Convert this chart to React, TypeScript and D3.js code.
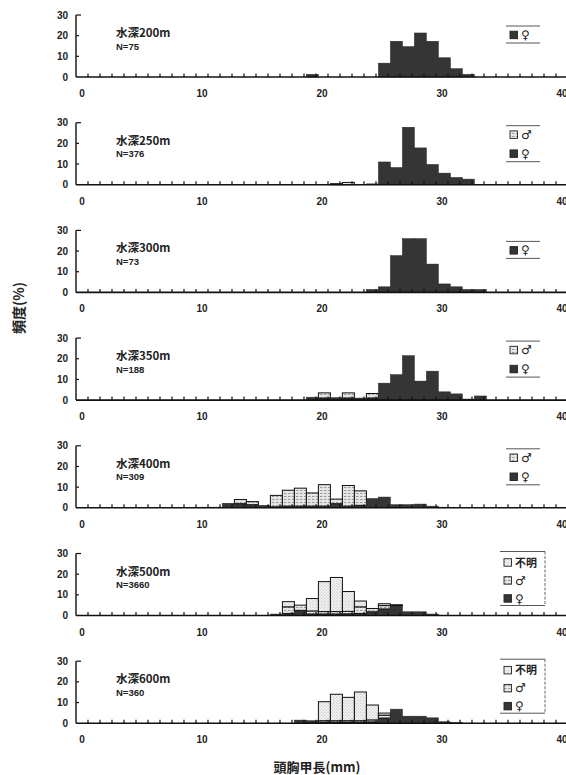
import React from "react";
import * as d3 from "d3";

// ---- data ----
const depthLabels = ["水深200m", "水深250m", "水深300m", "水深350m", "水深400m", "水深500m", "水深600m"];
const sampleSizes = [75, 376, 73, 188, 309, 3660, 360];
const xTicks = [0, 10, 20, 30, 40];
const yTicks = [0, 10, 20, 30];
const legendSets = [
  ["♀"],
  ["♂", "♀"],
  ["♀"],
  ["♂", "♀"],
  ["♂", "♀"],
  ["不明", "♂", "♀"],
  ["不明", "♂", "♀"],
];

// [carapace length bin (mm), 不明 %, ♂ %, ♀ %]
const d200 = [[19,0,0,1.3],[25,0,0,6.7],[26,0,0,17.3],[27,0,0,14.7],[28,0,0,21.3],[29,0,0,17.3],[30,0,0,9.3],[31,0,0,4],[32,0,0,1.3]];
const d250 = [[21,0,0.5,0],[22,0,1.1,0],[24,0,0,0.4],[25,0,0,11],[26,0,0,8.3],[27,0,0,27.8],[28,0,0,17.8],[29,0,0,9.8],[30,0,0,5.6],[31,0,0,3.5],[32,0,0,2.7]];
const d300 = [[24,0,0,1.4],[25,0,0,2.7],[26,0,0,17.8],[27,0,0,26],[28,0,0,26],[29,0,0,13.7],[30,0,0,4.1],[31,0,0,2.7],[32,0,0,1.4],[33,0,0,1.4]];
const d350 = [[19,0,0,1.4],[20,0,2.5,1],[21,0,0,1.2],[22,0,2.5,1],[23,0,0,1],[24,0,2.2,1],[25,0,0,8.2],[26,0,0,12.3],[27,0,0,21.5],[28,0,0,9.2],[29,0,0,14],[30,0,0,4],[31,0,0,3],[32,0,0,0.5],[33,0,0,2]];
const d400 = [[10,0,0,0.3],[11,0,0,0.3],[12,0,0,2.2],[13,0,2,2],[14,0,1.5,1.5],[15,0,0,1.2],[16,0,5.5,0.5],[17,0,7.7,0.8],[18,0,8.7,0.8],[19,0,6.4,0.8],[20,0,10.4,0.8],[21,0,2.2,2],[22,0,10,0.8],[23,0,7,1.2],[24,0,0,4.5],[25,0,0,5.2],[26,0,0,1.5],[27,0,0,1.5],[28,0,0,1.8],[29,0,0,0.8],[30,0,0,0.3]];
const d500 = [[16,0,0,0.7],[17,2.5,3.2,1],[18,0,2.5,2.5],[19,6,1.5,0.7],[20,14.5,1.2,0.7],[21,16.5,1.2,0.7],[22,9.6,1.2,0.8],[23,2.8,3.2,1],[24,0,1.6,1.8],[25,0.9,1.6,3.2],[26,0,0.4,4.8],[27,0,0,1.8],[28,0,0,1.8],[29,0,0,0.7]];
const d600 = [[18,0,0,1.5],[19,0,0,1.2],[20,9.2,0.8,0.4],[21,12.8,0.8,0.4],[22,11.3,0.8,0.4],[23,13.9,0.8,0.4],[24,7.2,1,0.6],[25,1,1.4,2.5],[26,0,0,6.8],[27,0,0,3.4],[28,0,0,3.4],[29,0,0,2.6],[30,0,0,0.7],[31,0,0,0.3]];
const panelData = [d200, d250, d300, d350, d400, d500, d600];

// ---- layout ----
const W = 566, H = 775;
const firstBase = 77, panelStep = 107.7, panelH = 62;
const x = d3.scaleLinear().domain([0, 40]).range([82, 562]);
const binShift = -0.3;
const NUM_FONT = "'Liberation Sans', Arial, sans-serif";
const CJK_FONT = "'Noto Sans CJK JP', 'Noto Sans', sans-serif";
const FEMALE = "#353535";

const fillFor = (k: string) => (k === "♀" ? FEMALE : k === "♂" ? "url(#maleHatch)" : "url(#unkDots)");

function Panel({ i }: { i: number }) {
  const base = firstBase + i * panelStep;
  const y = d3.scaleLinear().domain([0, 30]).range([base, base - panelH]);
  const data = panelData[i];
  const minorTicks = d3.range(0, 40).map((k) => k + 0.5);
  const legend = legendSets[i];
  const hasBox = legend.length === 3;
  const legTop = base + (hasBox ? -64 : legend.length === 2 ? -59 : -51);
  const legBottom = base + (hasBox ? -10 : legend.length === 2 ? -23 : -34);
  const itemYs = hasBox ? [-53, -35, -17] : legend.length === 2 ? [-50, -31] : [-42];
  const legX0 = hasBox ? 500 : 506;
  const legX1 = hasBox ? 545 : 540;
  return (
    <g>
      {/* bars */}
      {data.map(([mm, unk, male, fem]) => {
        const x0 = x(mm + binShift), x1 = x(mm + 1 + binShift);
        const segs = [
          { k: "♀", v0: 0, v1: fem },
          { k: "♂", v0: fem, v1: fem + male },
          { k: "不明", v0: fem + male, v1: fem + male + unk },
        ].filter((s) => s.v1 - s.v0 > 0);
        return segs.map((s) => (
          <rect
            key={mm + s.k}
            x={x0}
            width={x1 - x0}
            y={y(s.v1)}
            height={y(s.v0) - y(s.v1)}
            fill={fillFor(s.k)}
            stroke={s.k === "♀" ? "#222" : "#111"}
            strokeWidth={s.k === "♀" ? 0.5 : 1}
          />
        ));
      })}
      {/* x axis */}
      <line x1={76} x2={W} y1={base} y2={base} stroke="#111" strokeWidth={1.6} />
      {minorTicks.map((t) => (
        <line key={t} x1={x(t)} x2={x(t)} y1={base} y2={base - 3.5} stroke="#111" strokeWidth={1.2} />
      ))}
      {xTicks.map((t) => (
        <text key={t} x={x(t)} y={base + 20} textAnchor="middle" fontSize={10} fontWeight="bold" fontFamily={NUM_FONT} fill="#222">
          {t}
        </text>
      ))}
      {/* y axis */}
      <line x1={76} x2={76} y1={y(30)} y2={base} stroke="#111" strokeWidth={1.4} />
      {yTicks.filter((t) => t > 0).map((t) => (
        <line key={t} x1={76} x2={t === 30 ? 81 : 79} y1={y(t)} y2={y(t)} stroke="#111" strokeWidth={1.2} />
      ))}
      {yTicks.map((t) => (
        <text key={t} x={68} y={y(t) + 3.5} textAnchor="end" fontSize={10} fontWeight="bold" fontFamily={NUM_FONT} fill="#222">
          {t}
        </text>
      ))}
      {/* panel labels */}
      <text x={116} y={base - 40} fontSize={11.5} fontWeight="bold" fontFamily={CJK_FONT} fill="#222">
        {depthLabels[i]}
      </text>
      <text x={116} y={base - 27.5} fontSize={9.5} fontWeight="bold" fontFamily={NUM_FONT} fill="#222">
        {"N=" + sampleSizes[i]}
      </text>
      {/* legend */}
      <line x1={legX0} x2={legX1} y1={legTop} y2={legTop} stroke="#444" strokeWidth={0.9} />
      <line x1={legX0} x2={legX1} y1={legBottom} y2={legBottom} stroke="#444" strokeWidth={0.9} />
      {hasBox && (
        <line x1={legX1} x2={legX1} y1={legTop} y2={legBottom} stroke="#555" strokeWidth={0.9} strokeDasharray="3 1.5" />
      )}
      {legend.map((k, j) => {
        const cy = base + itemYs[j];
        const sx = legX0 + 4;
        return (
          <g key={k}>
            <rect x={sx} y={cy - 3.8} width={7.5} height={7.5} fill={fillFor(k)} stroke="#222" strokeWidth={0.9} />
            <text
              x={sx + 11}
              y={cy + 4}
              fontSize={k === "不明" ? 11 : 12}
              fontFamily={k === "不明" ? CJK_FONT : "'DejaVu Sans', sans-serif"}
              fontWeight="bold"
              fill="#222"
            >
              {k}
            </text>
          </g>
        );
      })}
    </g>
  );
}

export default function App() {
  return (
    <svg width={W} height={H} style={{ position: "absolute", left: 0, top: 0, background: "#fff" }}>
      <defs>
        <pattern id="unkDots" width={3} height={3} patternUnits="userSpaceOnUse">
          <rect width={3} height={3} fill="#f4f4f4" />
          <circle cx={1} cy={1} r={0.6} fill="#9a9a9a" />
          <circle cx={2.5} cy={2.5} r={0.45} fill="#bcbcbc" />
        </pattern>
        <pattern id="maleHatch" width={4} height={3} patternUnits="userSpaceOnUse">
          <rect width={4} height={3} fill="#e6e6e6" />
          <line x1={0} x2={2.5} y1={1.5} y2={1.5} stroke="#8a8a8a" strokeWidth={0.8} />
        </pattern>
      </defs>
      <rect width={W} height={H} fill="#fff" />
      {depthLabels.map((_, i) => (
        <Panel key={i} i={i} />
      ))}
      <text
        transform="translate(24,308) rotate(-90)"
        textAnchor="middle"
        fontSize={14}
        fontWeight="bold"
        fontFamily={CJK_FONT}
        fill="#222"
      >
        頻度(%)
      </text>
      <text x={317} y={772} textAnchor="middle" fontSize={13} fontWeight="bold" fontFamily={CJK_FONT} fill="#222">
        頭胸甲長(mm)
      </text>
    </svg>
  );
}
